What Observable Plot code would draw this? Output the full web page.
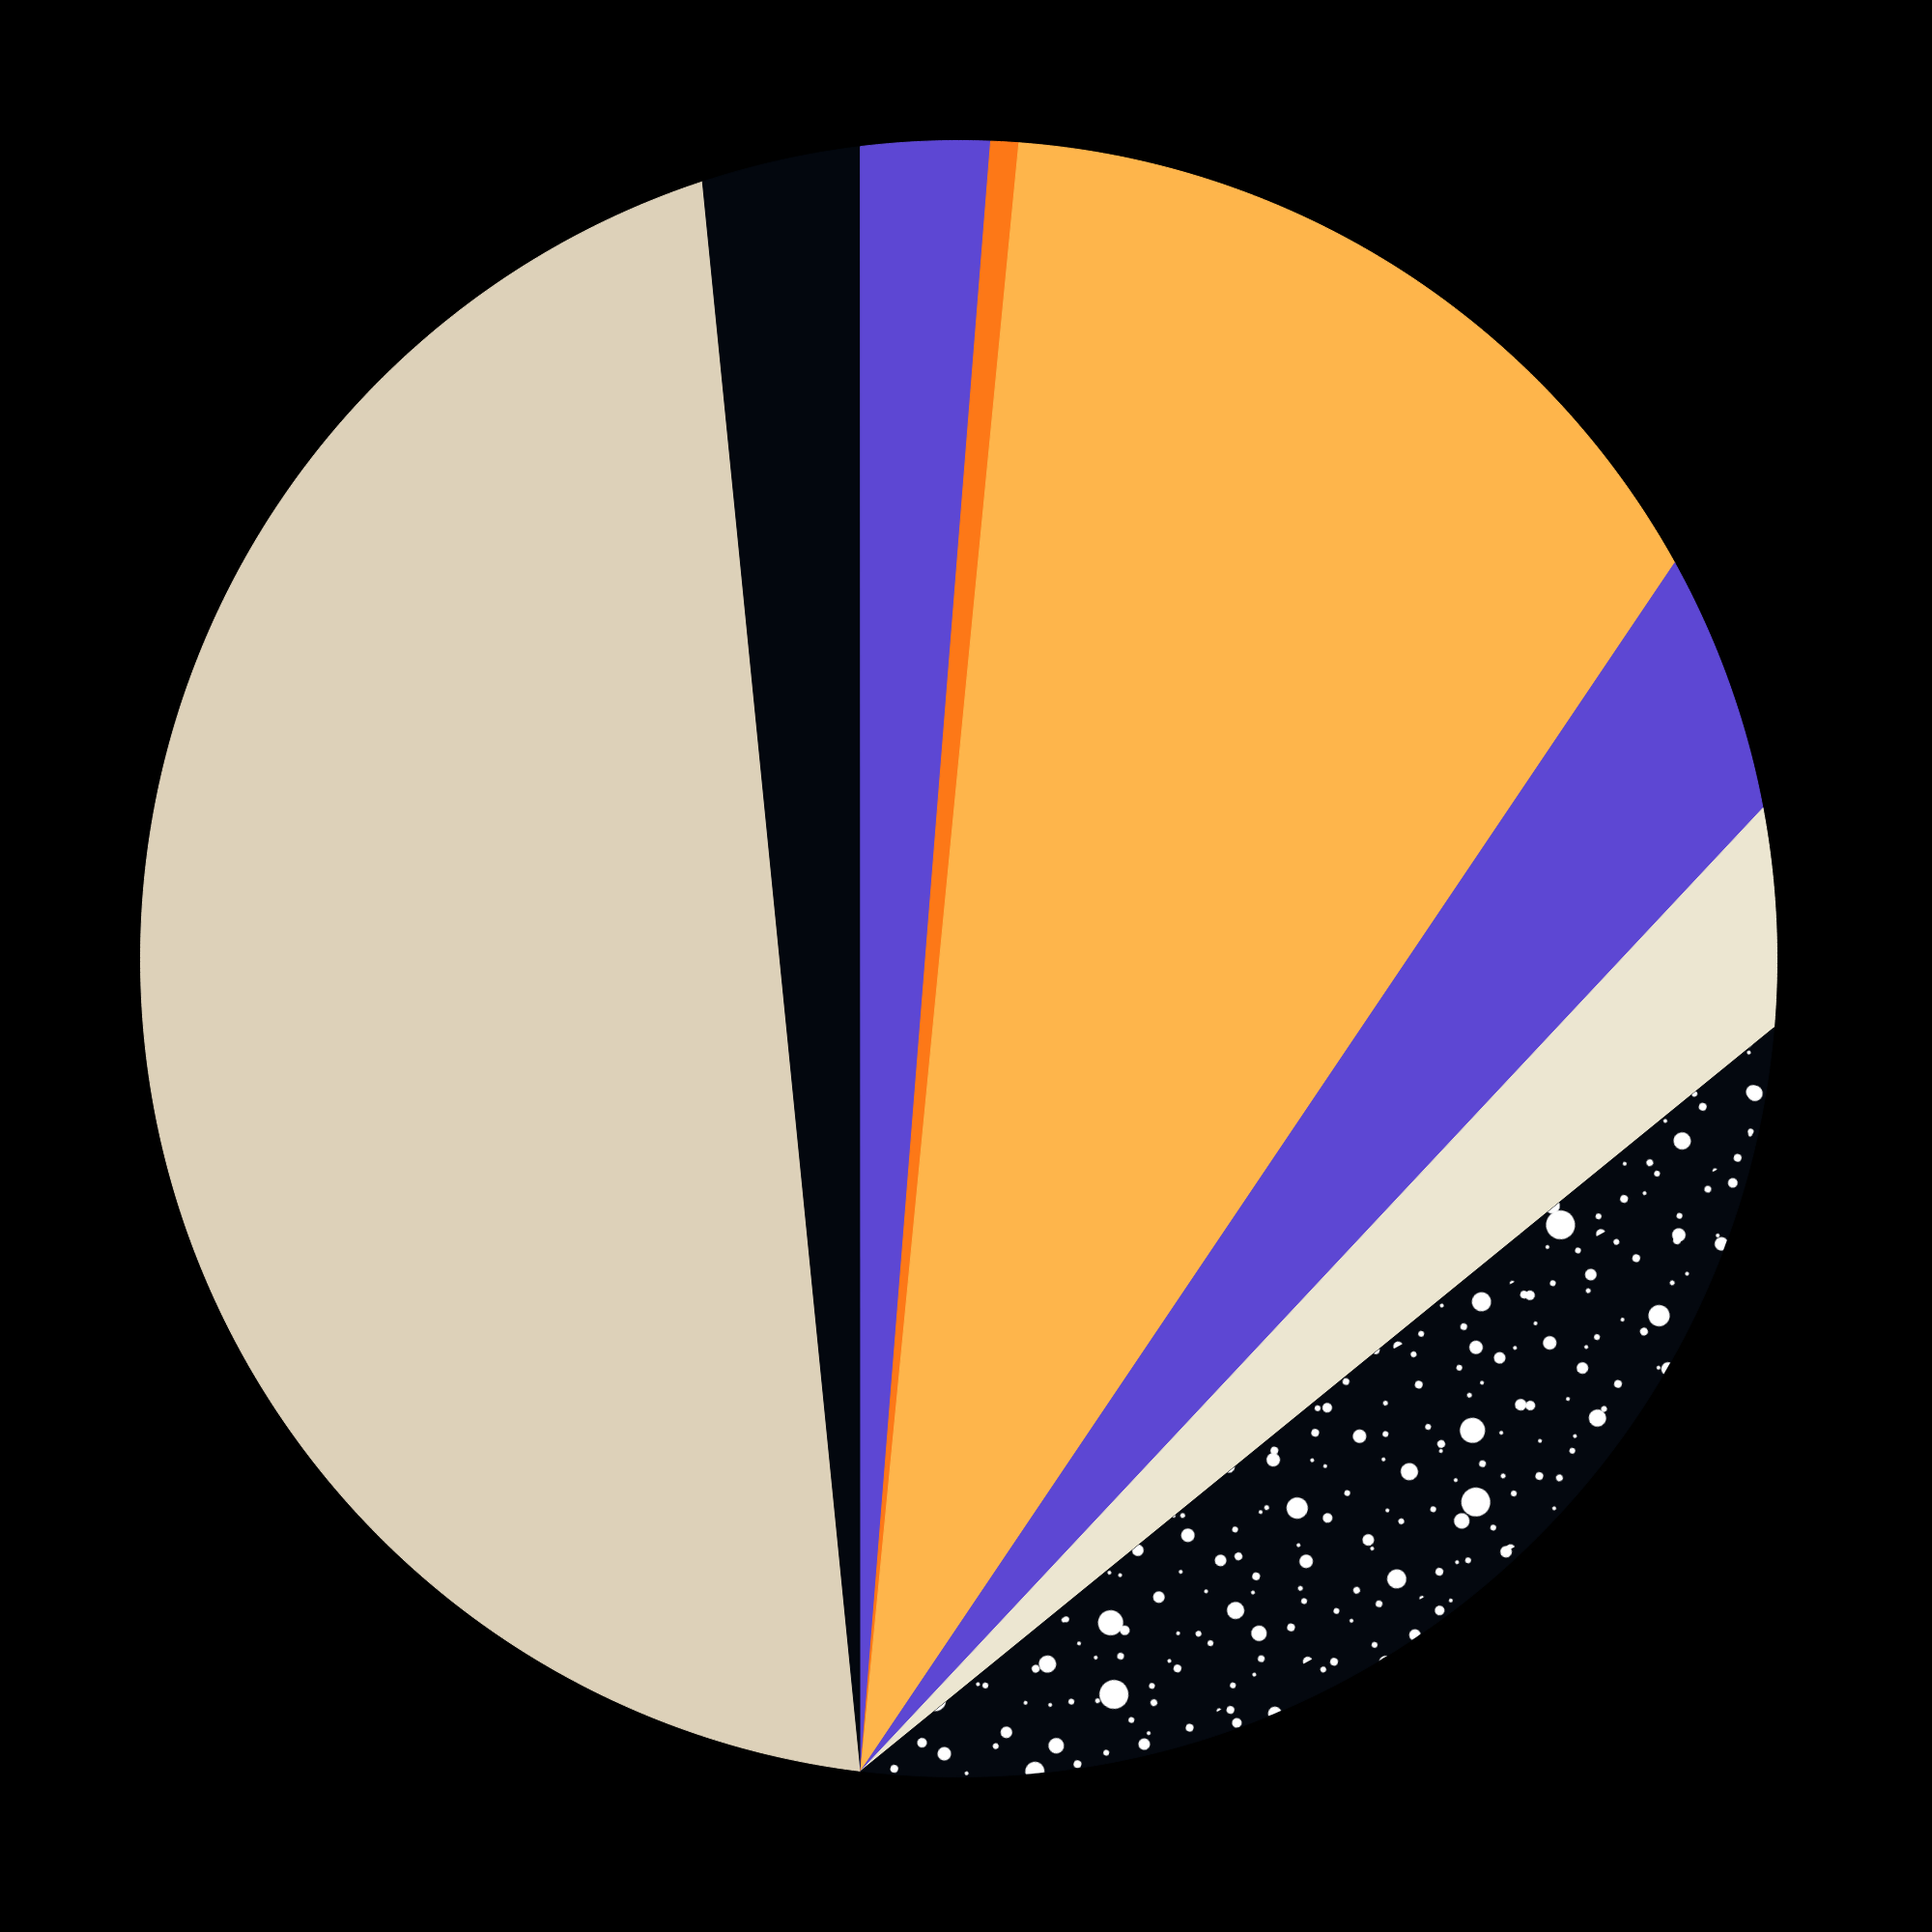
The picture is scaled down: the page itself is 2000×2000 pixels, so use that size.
<!DOCTYPE html>
<html>
<head>
<meta charset="utf-8">
<script src="https://cdn.jsdelivr.net/npm/d3@7"></script>
<script src="https://cdn.jsdelivr.net/npm/@observablehq/plot@0.6"></script>
<style>
  html, body { margin: 0; padding: 0; background: #000; }
  #chart svg { display: block; }
</style>
</head>
<body>
<div id="chart"></div>
<script>
// Slices, in clockwise order starting from the apex at the bottom of the circle
const sliceNames = ["Slice 1", "Slice 2", "Slice 3", "Slice 4", "Slice 5", "Slice 6", "Slice 7", "Slice 8"];
const sliceValues = [43.02, 3.15, 2.54, 0.55, 15.79, 5.09, 4.29, 25.57];
const sliceColors = ["#ddd1b9", "#03070e", "#5d47d3", "#fd7817", "#feb54b", "#5d47d3", "#ece6d1", "#04080f"];
const texturedSlice = "Slice 8";
const apexAngle = 186.88; // position of the common apex on the rim, degrees clockwise from top

const total = d3.sum(sliceValues);
const rad = (a) => a * Math.PI / 180;
const pts = [];
let cum = 0;
sliceValues.forEach((v, i) => {
  const a0 = apexAngle + 360 * cum / total;
  cum += v;
  const a1 = apexAngle + 360 * cum / total;
  const push = (a) => pts.push({slice: sliceNames[i], color: sliceColors[i], x: Math.sin(rad(a)), y: Math.cos(rad(a))});
  push(apexAngle);
  const n = Math.max(2, Math.ceil((a1 - a0) / 0.25));
  for (let k = 0; k <= n; k++) push(a0 + (a1 - a0) * k / n);
  push(apexAngle);
});
const texPts = pts.filter(d => d.slice === texturedSlice);

const chart = Plot.plot({
  width: 2000,
  height: 2000,
  marginLeft: 145,
  marginRight: 161,
  marginTop: 145,
  marginBottom: 161,
  x: {domain: [-1, 1], axis: null},
  y: {domain: [-1, 1], axis: null},
  color: {type: "identity"},
  style: {background: "#000"},
  marks: [
    Plot.line(pts, {x: "x", y: "y", z: "slice", fill: "color", stroke: "color", strokeWidth: 1, curve: "linear"}),
    Plot.line(texPts, {x: "x", y: "y", fill: "url(#speckleA)", stroke: "none", curve: "linear"}),
    Plot.line(texPts, {x: "x", y: "y", fill: "url(#speckleB)", stroke: "none", curve: "linear"})
  ]
});

// speckle texture (decorative style only)
const dotsA = [
  [23,41,4],[58,12,3],[90,70,13],[130,30,6],[170,95,4],[210,20,9],[250,60,3.5],[280,110,7],
  [40,130,9],[75,160,3],[115,140,15],[160,180,6],[200,150,4],[240,200,11],[285,170,3],
  [20,210,6],[60,240,10],[100,220,4],[140,260,7],[185,240,3],[220,280,4],[265,250,7],
  [10,290,3],[95,290,6],[150,120,3],[195,60,3],[45,80,3],[270,20,4],[235,120,4],[125,200,3],
  [175,10,2],[5,100,3],[65,100,2],[205,215,2],[255,150,2],[110,100,3.5],[85,20,2],
  [160,60,2],[230,95,3],[30,175,2],[180,275,6],[120,245,2],[275,290,3],[140,160,3],[50,270,3.5]
];
const dotsB = [
  [15,20,5],[70,45,2.5],[120,15,3],[180,40,7],[40,95,2],[100,110,4],[150,80,2.5],[200,120,5],
  [25,160,3],[80,190,8],[140,170,2.5],[190,200,3.5],[55,225,2],[110,240,5],[170,225,2],[215,60,2],
  [5,240,2.5],[225,170,2],[160,130,2],[95,150,2]
];
const ns = "http://www.w3.org/2000/svg";
const defs = document.createElementNS(ns, "defs");
function addPattern(id, size, rot, dots) {
  const pat = document.createElementNS(ns, "pattern");
  pat.setAttribute("id", id);
  pat.setAttribute("patternUnits", "userSpaceOnUse");
  pat.setAttribute("width", size);
  pat.setAttribute("height", size);
  pat.setAttribute("patternTransform", `rotate(${rot})`);
  for (const [cx, cy, r] of dots) {
    const c = document.createElementNS(ns, "circle");
    c.setAttribute("cx", cx); c.setAttribute("cy", cy); c.setAttribute("r", r);
    c.setAttribute("fill", "#fff");
    pat.appendChild(c);
  }
  defs.appendChild(pat);
}
addPattern("speckleA", 300, 17, dotsA);
addPattern("speckleB", 240, -29, dotsB);
chart.insertBefore(defs, chart.firstChild);

document.getElementById("chart").appendChild(chart);
</script>
</body>
</html>
